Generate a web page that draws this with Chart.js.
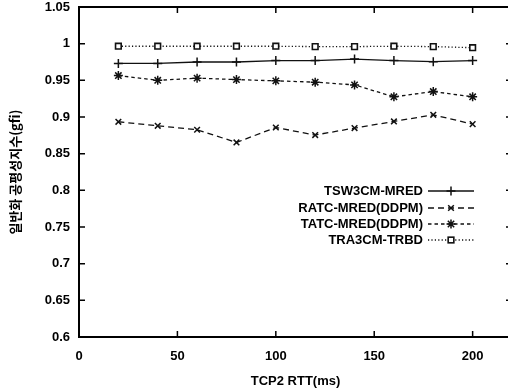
<!DOCTYPE html>
<html>
<head>
<meta charset="utf-8">
<script src="https://cdn.jsdelivr.net/npm/chart.js@4.4.1/dist/chart.umd.min.js"></script>
<style>
html,body{margin:0;padding:0;background:#fff;overflow:hidden;width:508px;height:389px;}
#wrap{position:absolute;left:0;top:0;width:518px;height:389px;}
</style>
</head>
<body>
<div id="wrap"><canvas id="c" width="518" height="389"></canvas></div>
<script>
const xValues = [20, 40, 60, 80, 100, 120, 140, 160, 180, 200];
const tsw3cmMred = [0.973, 0.973, 0.975, 0.975, 0.977, 0.977, 0.979, 0.977, 0.9755, 0.977];
const ratcMred   = [0.8935, 0.888, 0.8826, 0.8653, 0.8857, 0.8754, 0.8849, 0.8939, 0.903, 0.8903];
const tatcMred   = [0.9565, 0.950, 0.953, 0.951, 0.9493, 0.9475, 0.9438, 0.9275, 0.9347, 0.9275];
const tra3cmTrbd = [0.9965, 0.9965, 0.9965, 0.9965, 0.9965, 0.996, 0.996, 0.9965, 0.996, 0.9945];
const seriesNames = ['TSW3CM-MRED', 'RATC-MRED(DDPM)', 'TATC-MRED(DDPM)', 'TRA3CM-TRBD'];
const xTicks = [0, 50, 100, 150, 200];
const yTicks = [0.6, 0.65, 0.7, 0.75, 0.8, 0.85, 0.9, 0.95, 1.0, 1.05];
const yTickLabels = ['0.6', '0.65', '0.7', '0.75', '0.8', '0.85', '0.9', '0.95', '1', '1.05'];
const xTitle = 'TCP2 RTT(ms)';
const yTitle = '일반화 공평성지수(gfi)';

const FONT = '"Liberation Sans", Arial, sans-serif';
const styles = [
  {dash: [], point: 'cross', r: 4.5},
  {dash: [6, 4], point: 'crossRot', r: 4},
  {dash: [3.5, 3], point: 'star', r: 4.5},
  {dash: [1.2, 2.2], point: 'rect', r: 4}
];
const allSeries = [tsw3cmMred, ratcMred, tatcMred, tra3cmTrbd];

function mk(i) {
  return {
    label: seriesNames[i],
    data: xValues.map((x, j) => ({x: x, y: allSeries[i][j]})),
    borderColor: '#111',
    borderWidth: 1.3,
    borderDash: styles[i].dash,
    pointStyle: styles[i].point,
    pointRadius: styles[i].r,
    pointBorderWidth: styles[i].point === 'rect' ? 1.6 : 1.5,
    pointBackgroundColor: '#fff',
    pointBorderColor: '#111',
    tension: 0,
    fill: false
  };
}

function drawMarker(ctx, style, x, y, r) {
  ctx.save();
  ctx.setLineDash([]);
  ctx.strokeStyle = '#111';
  ctx.lineWidth = 1.5;
  ctx.beginPath();
  if (style === 'cross' || style === 'star') {
    ctx.moveTo(x - r, y); ctx.lineTo(x + r, y);
    ctx.moveTo(x, y - r); ctx.lineTo(x, y + r);
  }
  if (style === 'crossRot' || style === 'star') {
    const d = r * 0.7071;
    ctx.moveTo(x - d, y - d); ctx.lineTo(x + d, y + d);
    ctx.moveTo(x - d, y + d); ctx.lineTo(x + d, y - d);
  }
  ctx.stroke();
  if (style === 'rect') {
    const s = r * 1.414 / 2;
    ctx.fillStyle = '#fff';
    ctx.fillRect(x - s, y - s, 2 * s, 2 * s);
    ctx.lineWidth = 1.6;
    ctx.strokeRect(x - s, y - s, 2 * s, 2 * s);
  }
  ctx.restore();
}

const framePlugin = {
  id: 'frame',
  afterDraw(chart) {
    const ctx = chart.ctx;
    const a = chart.chartArea;
    const xs = chart.scales.x, ys = chart.scales.y;
    ctx.save();
    ctx.strokeStyle = '#000';
    ctx.lineWidth = 2;
    ctx.setLineDash([]);
    ctx.strokeRect(a.left, a.top, a.right - a.left, a.bottom - a.top);
    ctx.lineWidth = 1.5;
    const tl = 6;
    ctx.beginPath();
    xTicks.forEach(v => {
      const px = xs.getPixelForValue(v);
      ctx.moveTo(px, a.bottom); ctx.lineTo(px, a.bottom - tl);
      ctx.moveTo(px, a.top); ctx.lineTo(px, a.top + tl);
    });
    yTicks.forEach(v => {
      const py = ys.getPixelForValue(v);
      ctx.moveTo(a.left, py); ctx.lineTo(a.left + tl, py);
      ctx.moveTo(a.right, py); ctx.lineTo(a.right - tl, py);
    });
    ctx.stroke();

    const rowsY = [191, 208, 224, 240];
    const textRight = 423, lineL = 428, lineR = 474;
    ctx.font = 'bold 13px ' + FONT;
    ctx.fillStyle = '#000';
    ctx.textAlign = 'right';
    ctx.textBaseline = 'middle';
    seriesNames.forEach((n, i) => {
      const y = rowsY[i];
      ctx.fillText(n, textRight, y);
      ctx.save();
      ctx.strokeStyle = '#111';
      ctx.lineWidth = 1.3;
      ctx.setLineDash(styles[i].dash);
      ctx.beginPath();
      ctx.moveTo(lineL, y); ctx.lineTo(lineR, y);
      ctx.stroke();
      ctx.restore();
      drawMarker(ctx, styles[i].point, (lineL + lineR) / 2, y, styles[i].r);
    });
    ctx.restore();
  }
};

const whiteBg = {
  id: 'bg',
  beforeDraw(chart) {
    const ctx = chart.ctx;
    ctx.save();
    ctx.fillStyle = '#fff';
    ctx.fillRect(0, 0, chart.width, chart.height);
    ctx.restore();
  }
};

new Chart(document.getElementById('c'), {
  type: 'line',
  data: { datasets: [mk(0), mk(1), mk(2), mk(3)] },
  options: {
    responsive: false,
    animation: false,
    events: [],
    layout: { padding: { top: 7, right: 0, left: 0, bottom: 0 } },
    plugins: { legend: { display: false }, tooltip: { enabled: false } },
    scales: {
      x: {
        type: 'linear',
        min: 0, max: 220,
        afterBuildTicks(s) { s.ticks = xTicks.map(v => ({value: v})); },
        afterFit(s) { s.height = 52; s.paddingLeft = 0; s.paddingRight = 0; },
        grid: { display: false, drawTicks: false },
        border: { display: false },
        ticks: {
          color: '#000', padding: 12, maxRotation: 0, autoSkip: false,
          font: { family: FONT, size: 13, weight: 'bold' },
          callback: (v) => String(v)
        },
        title: {
          display: true, text: xTitle, color: '#000', padding: { top: 6, bottom: 0 },
          font: { family: FONT, size: 13, weight: 'bold' }
        }
      },
      y: {
        type: 'linear',
        min: 0.6, max: 1.05,
        afterBuildTicks(s) { s.ticks = yTicks.map(v => ({value: v})); },
        afterFit(s) { s.width = 79; s.paddingTop = 0; s.paddingBottom = 0; },
        grid: { display: false, drawTicks: false },
        border: { display: false },
        ticks: {
          color: '#000', padding: 9, autoSkip: false,
          font: { family: FONT, size: 13, weight: 'bold' },
          callback: (v, i) => yTickLabels[yTicks.findIndex(t => Math.abs(t - v) < 1e-9)]
        },
        title: {
          display: true, text: yTitle, color: '#000', padding: { top: 7, bottom: 0 },
          font: { family: '"Noto Sans CJK KR", "Liberation Sans", sans-serif', size: 13, weight: 'bold' }
        }
      }
    }
  },
  plugins: [whiteBg, framePlugin]
});
</script>
</body>
</html>
